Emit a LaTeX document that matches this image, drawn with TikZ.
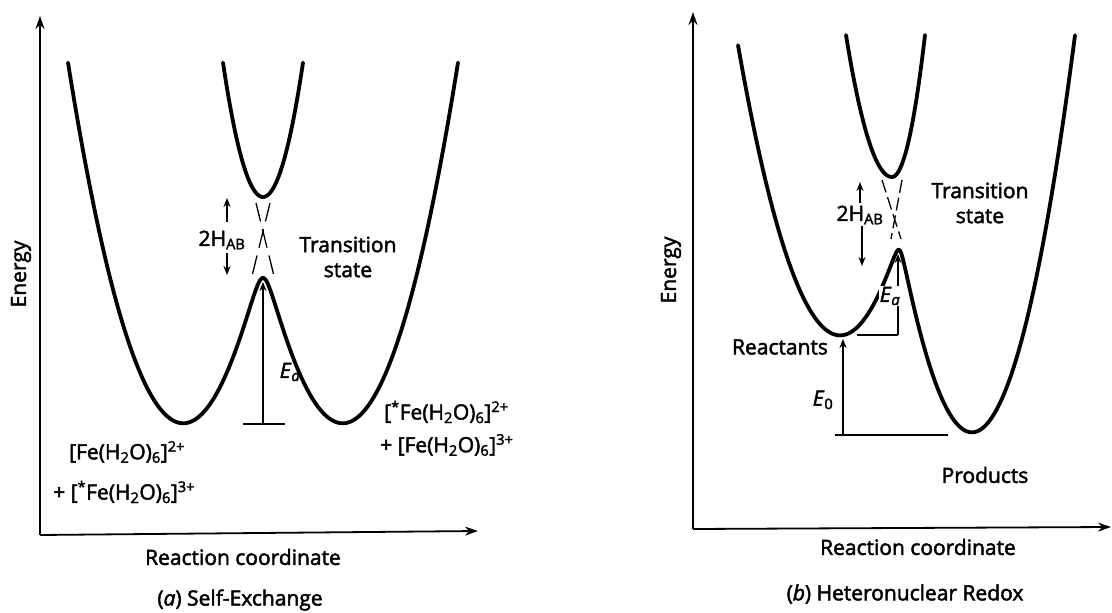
\documentclass[tikz,border=0pt]{standalone}
\usepackage{fontspec}
\setmainfont{Open Sans}[FakeBold=2.2]
\usetikzlibrary{arrows.meta}
\begin{document}
\begin{tikzpicture}[x=1pt,y=-1pt,
  curve/.style={line width=3.8pt, line cap=round, line join=round},
  axis/.style={line width=1.8pt, -{Stealth[length=13pt,width=9pt]}},
  refline/.style={line width=1.6pt},
  dashx/.style={line width=1.3pt, dash pattern=on 19pt off 8pt},
  dashxr/.style={line width=1.3pt, dash pattern=on 13pt off 5pt},
  smallarrow/.style={line width=1.6pt, -{Stealth[length=9pt,width=7pt]}},
  lbl/.style={font=\fontsize{21}{25}\selectfont, inner sep=1pt},
  declare function={
    lA(\x)=(0.16498*(\x-183))^2;
    lB(\x)=(0.16498*(\x-343))^2;
    lLow(\x)=(lA(\x)+lB(\x))/2 - 10*veclen((lA(\x)-lB(\x))/20, 3.0);
    rA(\x)=97+(0.16694*(\x-840))^2;
    rB(\x)=(0.19344*(\x-972))^2;
    rLow(\x)=(rA(\x)+rB(\x))/2 - 10*veclen((rA(\x)-rB(\x))/20, 1.4);
  }]
\fill[white] (0,0) rectangle (1112,613);
\useasboundingbox (0,0) rectangle (1112,613);

% ================= LEFT PANEL =================
\coordinate (lO) at (40,535);
\coordinate (lYt) at (40,16);
\coordinate (lXt) at (478,531);
\draw[axis] (lO) -- (lYt);
\draw[axis] (lO) -- (lXt);

% lower adiabatic surface
\draw[curve] plot[domain=68:458, samples=241, smooth, variable=\x] ({\x},{422-lLow(\x)});
% upper surface
\draw[curve] plot[domain=223:303, samples=61, smooth, variable=\x] ({\x},{197-0.084*(\x-263)^2});

% diabatic crossing (dashed)
\coordinate (lxa1) at (256,203); \coordinate (lxa2) at (274,276);
\coordinate (lxb1) at (270,203); \coordinate (lxb2) at (252,276);
\draw[dashx] (lxa1) -- (lxa2);
\draw[dashx] (lxb1) -- (lxb2);

% 2H_AB arrows
\coordinate (lhu0) at (227,222); \coordinate (lhu1) at (227,198);
\coordinate (lhd0) at (227,253); \coordinate (lhd1) at (227,275);
\draw[smallarrow] (lhu0) -- (lhu1);
\draw[smallarrow] (lhd0) -- (lhd1);
\node[lbl] (lH) at (222,240) {2H\textsubscript{AB}};

% E_a
\coordinate (lea0) at (263,424); \coordinate (lea1) at (263,282);
\coordinate (leaL) at (243,424); \coordinate (leaR) at (285,424);
\draw[refline] (leaL) -- (leaR);
\draw[smallarrow] (lea0) -- (lea1);
\node[lbl] (lEa) at (290,372) {\textit{E}\textsubscript{\textit{a}}};

\node[lbl, align=center] (lTS) at (348,257) {Transition\\state};
\node[lbl, rotate=90] (lEn) at (21,274) {Energy};

\node[lbl, anchor=west] (lR1) at (68,452) {[Fe(H\textsubscript{2}O)\textsubscript{6}]\textsuperscript{2+}};
\node[lbl, anchor=west] (lR2) at (52,492) {+ [\textsuperscript{*}Fe(H\textsubscript{2}O)\textsubscript{6}]\textsuperscript{3+}};
\node[lbl, anchor=west] (lP1) at (383,412) {[\textsuperscript{*}Fe(H\textsubscript{2}O)\textsubscript{6}]\textsuperscript{2+}};
\node[lbl, anchor=west] (lP2) at (379,445) {+ [Fe(H\textsubscript{2}O)\textsubscript{6}]\textsuperscript{3+}};

\node[lbl] (lRC) at (243,557) {Reaction coordinate};
\node[lbl] (lCap) at (240,600) {(\textit{a}) Self-Exchange};

% ================= RIGHT PANEL =================
\coordinate (rO) at (693,529);
\coordinate (rYt) at (693,12);
\coordinate (rXt) at (1111,527);
\draw[axis] (rO) -- (rYt);
\draw[axis] (rO) -- (rXt);

% lower surface
\draw[curve] plot[domain=738:1075, samples=241, smooth, variable=\x] ({\x},{432-rLow(\x)});
% upper surface
\draw[curve] plot[domain=846:892, samples=40, smooth, variable=\x] ({\x},{177-0.0671*(\x-892)^2})
  -- plot[domain=892:925, samples=30, smooth, variable=\x] ({\x},{177-0.1304*(\x-892)^2});

% dashed crossing
\coordinate (rxa1) at (882,180); \coordinate (rxa2) at (901,239);
\coordinate (rxb1) at (902,180); \coordinate (rxb2) at (891,239);
\draw[dashxr] (rxa1) -- (rxa2);
\draw[dashxr] (rxb1) -- (rxb2);

% 2H_AB
\coordinate (rhu0) at (860,203); \coordinate (rhu1) at (860,182);
\coordinate (rhd0) at (862,226); \coordinate (rhd1) at (862,266);
\draw[smallarrow] (rhu0) -- (rhu1);
\draw[smallarrow] (rhd0) -- (rhd1);
\node[lbl] (rH) at (860,215) {2H\textsubscript{AB}};

% E_a
\coordinate (rea0) at (898,335); \coordinate (rea1) at (898,254);
\coordinate (reaL) at (857,335);
\draw[refline] (reaL) -- (rea0);
\draw[smallarrow] (rea0) -- (rea1);
\node[lbl, fill=white] (rEa) at (890,296) {\textit{E}\textsubscript{\textit{a}}};

% E_0
\coordinate (re00) at (843,435); \coordinate (re01) at (843,339);
\coordinate (re0L) at (835,435); \coordinate (re0R) at (948,435);
\draw[refline] (re0L) -- (re0R);
\draw[smallarrow] (re00) -- (re01);
\node[lbl] (rE0) at (823,400) {\textit{E}\textsubscript{0}};

\node[lbl] (rReac) at (780,347) {Reactants};
\node[lbl] (rProd) at (985,475) {Products};
\node[lbl, align=center] (rTS) at (980,203) {Transition\\state};
\node[lbl, rotate=90] (rEn) at (671,270) {Energy};

\node[lbl] (rRC) at (918,547) {Reaction coordinate};
\node[lbl] (rCap) at (905,594) {(\textit{b}) Heteronuclear Redox};
\end{tikzpicture}
\end{document}
